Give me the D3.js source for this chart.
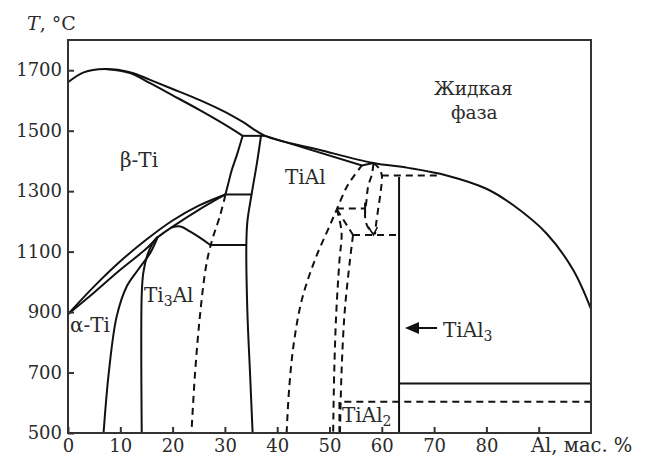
<!DOCTYPE html>
<html>
<head>
<meta charset="utf-8">
<script src="https://cdn.jsdelivr.net/npm/d3@7"></script>
<style>
body { margin: 0; background: #fff; }
</style>
</head>
<body>
<script>
var w = 650, h = 461;
var serif = '"DejaVu Serif", serif';

// axis ticks
var xTicks = [0, 10, 20, 30, 40, 50, 60, 70, 80, 90];
var xLabels = ['0', '10', '20', '30', '40', '50', '60', '70', '80', ''];
var yTicks = [500, 700, 900, 1100, 1300, 1500, 1700];

// phase boundaries, [Al wt%, T °C]
var liquidus = [[0, 1660], [3, 1693], [7, 1704], [12, 1693], [15.7, 1668], [20, 1638], [25.2, 1601], [30, 1562], [33.5, 1528], [37.7, 1483], [48, 1437], [58.4, 1393], [65, 1377], [72.4, 1352], [80, 1308], [85.1, 1254], [91.5, 1160], [96.6, 1039], [100, 910]];
var solidusBeta = [[7, 1704], [12, 1690], [15.7, 1657], [20, 1617], [25.2, 1568], [30, 1520], [33.4, 1483]];
var betaTransus = [[0, 893], [5, 985], [10, 1068], [15, 1140], [20, 1203], [25, 1252], [30.1, 1289]];
var alphaTransus = [[0, 893], [5, 965], [10, 1040], [15, 1110], [17.2, 1148], [19.8, 1180], [25, 1238], [30.1, 1289]];
var betaRight = [[33.4, 1483], [32.3, 1420], [31.3, 1369], [30.6, 1322], [30.1, 1289]];
var tialLeft = [[36.9, 1483], [36.1, 1390], [35.1, 1289], [34.3, 1200], [34.1, 1122], [34.3, 900], [34.8, 700], [35.3, 500]];
var ti3alTop = [[19.8, 1180], [21.5, 1183], [23.3, 1167], [25.5, 1143], [27.2, 1122]];
var alphaSolvus = [[17.2, 1150], [15.7, 1095], [13.4, 1040], [11.2, 984], [9.3, 885], [7.8, 700], [6.8, 500]];
var ti3alLeft = [[17.2, 1150], [16.2, 1128], [15.2, 1090], [14.4, 1030], [14.1, 960], [14.1, 500]];
var ti3alRight = [[30.1, 1287], [29, 1215], [27.8, 1152], [26.9, 1095], [26.2, 1030], [25.2, 883], [24.3, 700], [23.6, 500]];
var domeA = [[41.8, 500], [42.3, 650], [43.2, 800], [44.7, 940], [47.2, 1072], [50.1, 1188], [51.4, 1240], [53.5, 1320], [56.2, 1385]];
var lineB = [[51.4, 1240], [52.3, 1165], [51.9, 1070], [51.3, 900], [50.9, 700], [50.7, 500]];
var lineC = [[54.5, 1155], [53.9, 1070], [52.9, 900], [52.3, 700], [52.0, 500]];
var lineD = [[58.4, 1390], [58.1, 1355], [57.4, 1317], [57.1, 1273], [56.8, 1215], [57.3, 1182], [58.4, 1160]];
var lineE = [[58.4, 1393], [59.5, 1375], [60, 1352], [59.8, 1300], [59.3, 1240], [58.9, 1190], [58.7, 1157]];

// straight segments
var solidusTiAl = [[37.7, 1483], [56.2, 1385], [58.4, 1393]];
var peritectic = [[33.4, 1483], [37.7, 1483]];
var eutectoid1 = [[30.1, 1289], [35.1, 1289]];
var eutectoid2 = [[27.2, 1122], [34.1, 1122]];
var tial3 = [[63.3, 1347], [63.3, 500]];
var h664 = [[63.3, 664], [100, 664]];
var diag = [[51.4, 1240], [54.5, 1155]];
var h1243 = [[51.4, 1243], [56.8, 1243]];
var h1155 = [[54.5, 1155], [63.3, 1155]];
var h1352 = [[60, 1352], [70.6, 1352]];
var tial2Box = [[51.9, 500], [51.9, 603], [100, 603]];

var curvesSolid = [liquidus, solidusBeta, betaTransus, alphaTransus, betaRight, tialLeft, ti3alTop, alphaSolvus, ti3alLeft];
var curvesDashed = [ti3alRight, domeA, lineB, lineC, lineD, lineE];
var straightSolid = [solidusTiAl, peritectic, eutectoid1, eutectoid2, tial3, h664];
var straightDashed = [diag, h1243, h1155, h1352, tial2Box];

var x = d3.scaleLinear().domain([0, 100]).range([68, 591]);
var y = d3.scaleLinear().domain([500, 1800]).range([433, 40]);

var svg = d3.select('body').append('svg')
    .attr('width', w)
    .attr('height', h);

var curve = d3.line()
    .x(function(d) { return x(d[0]); })
    .y(function(d) { return y(d[1]); })
    .curve(d3.curveCatmullRom.alpha(0.5));
var straight = d3.line()
    .x(function(d) { return x(d[0]); })
    .y(function(d) { return y(d[1]); });

function draw(data, gen, dash) {
    svg.append('g')
        .selectAll('path')
        .data(data)
        .enter().append('path')
        .attr('d', gen)
        .attr('fill', 'none')
        .attr('stroke', '#111')
        .attr('stroke-width', 2)
        .attr('stroke-dasharray', dash);
}
draw(curvesSolid, curve, null);
draw(straightSolid, straight, null);
draw(curvesDashed, curve, '7,5');
draw(straightDashed, straight, '7,5');

// small end tick on the 1243 line and arrow head at 1155
svg.append('path')
    .attr('d', 'M' + x(56.8) + ',' + y(1262) + 'V' + y(1224))
    .attr('stroke', '#111').attr('stroke-width', 2);
svg.append('path')
    .attr('d', 'M' + (x(58.4) - 5) + ',' + (y(1155) - 8) + 'L' + x(58.4) + ',' + y(1155) + 'L' + (x(58.4) + 4) + ',' + (y(1155) - 8))
    .attr('fill', 'none').attr('stroke', '#111').attr('stroke-width', 1.6);

// frame
svg.append('rect')
    .attr('x', x(0)).attr('y', y(1800))
    .attr('width', x(100) - x(0)).attr('height', y(500) - y(1800))
    .attr('fill', 'none').attr('stroke', '#333').attr('stroke-width', 2);

var xAxis = svg.append('g')
    .attr('transform', 'translate(0,' + y(500) + ')')
    .call(d3.axisBottom(x).tickValues(xTicks).tickSize(-6).tickPadding(6)
        .tickFormat(function(d, i) { return xLabels[i]; }));
var yAxis = svg.append('g')
    .attr('transform', 'translate(' + x(0) + ',0)')
    .call(d3.axisLeft(y).tickValues(yTicks).tickSize(-6).tickPadding(6).tickFormat(d3.format('d')));

[xAxis, yAxis].forEach(function(g) {
    g.attr('font-family', null).attr('font-size', null);
    g.select('.domain').remove();
    g.selectAll('line').attr('stroke', '#333').attr('stroke-width', 2);
    g.selectAll('text').style('font-size', '18px').style('fill', '#2a2a2a')
        .style('font-family', serif);
});

function text(px, py, size) {
    return svg.append('text').attr('x', px).attr('y', py)
        .style('font-family', serif).style('font-size', (size || 18) + 'px').style('fill', '#2a2a2a');
}

text(531, 452, 19.5).text('Al, мас. %');

var title = text(27, 30, 19);
title.append('tspan').style('font-style', 'italic').text('T');
title.append('tspan').text(', °C');

// phase labels
function label(px, py, parts, size) {
    var t = text(px, py, size || 20);
    parts.forEach(function(p) {
        var s = t.append('tspan').text(p[0]);
        if (p[1]) s.style('font-size', '14px').attr('dy', 4);
        else if (p[2]) s.attr('dy', -4);
    });
}
label(120, 167, [['β-Ti']]);
label(70, 332, [['α-Ti']]);
label(144, 302, [['Ti'], ['3', true], ['Al', false, true]]);
label(285, 184, [['TiAl']]);
label(434, 95, [['Жидкая']], 18.5);
label(451, 119, [['фаза']], 18.5);
label(443, 337, [['TiAl'], ['3', true]]);
label(342, 422, [['TiAl'], ['2', true]]);

// arrow to TiAl3
svg.append('path')
    .attr('d', 'M417,328H437')
    .attr('stroke', '#111').attr('stroke-width', 2);
svg.append('path')
    .attr('d', 'M405,328L419,322L419,334Z')
    .attr('fill', '#111');
</script>
</body>
</html>
